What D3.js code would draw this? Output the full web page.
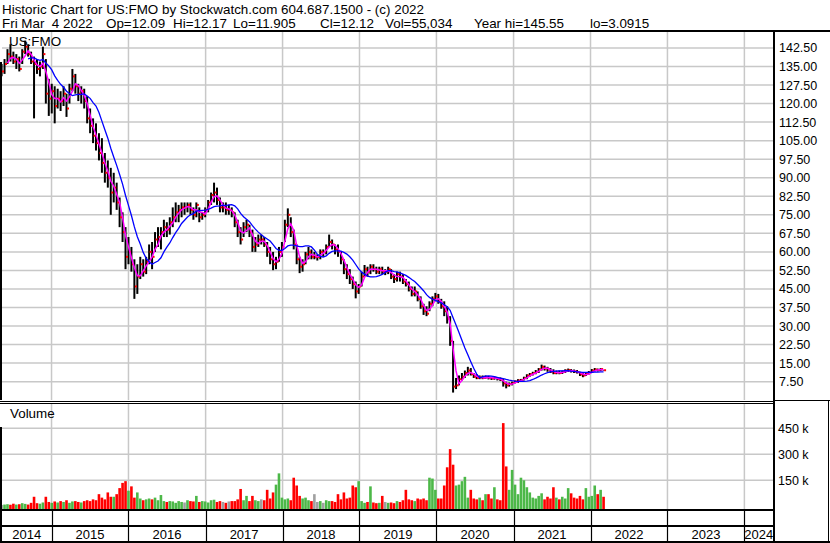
<!DOCTYPE html>
<html>
<head>
<meta charset="utf-8">
<script src="https://cdn.jsdelivr.net/npm/d3@7"></script>
<style>
  body { margin: 0; background: #fff; }
  svg { display: block; font-family: "Liberation Sans", Arial, sans-serif; }
</style>
</head>
<body>
<svg id="chart" width="830" height="543"></svg>
<script>
// bars every 14 days, first one 2014-05-09, last one 2022-03-04
const firstBar = new Date(Date.UTC(2014, 4, 9));
const barStepDays = 14;

const priceHigh = [
  136,138,142,144,141,140,139,142,145.5,144,
  141,139,138,137,143,138,130,128,127,126,
  125,127,124,128,134,132,128,127,126,123,
  118,114,112,108,106,100,97,94,92,88,
  82,76,70,66,62,57,55,58,57,58,
  63,64,68,70,70,73,72,74,78,80,
  79,80,80,80,80,78,80,78,76,78,
  81,84,88,86,82,80,80,79,78,76,
  73,70,72,73,71,69,66,67,67,66,
  64,62,60,58,62,64,73,77.6,74,69,
  63,58,57,60,62,61,60,59,61,61,
  63,67,65,63,63,60,57,55,53,50,
  48,47,52,54.7,54,55,55,54,54,54,
  53,54,53,51,52,52,51,49,48,46,
  46,44,42,39,38,40,42,43.4,43,41,
  40,38,34,24,9,10,11,12,13.5,13,
  11,10.5,10,10,10,9.8,9.5,9.6,9.4,9.2,
  8.5,7.5,7.2,7.5,8,8.5,8.6,9.5,10.5,11,
  11.5,12.2,13,14.4,14,13.5,13,12.5,12,12,
  12,12.5,12.8,12.6,12.4,12.2,11.5,11,11.2,11.8,
  12.6,13,12.8,13,12.17
];
const priceLow = [
  131,132,136,137,136,134,133,136,140,139,
  136,114,132,131,134,120,115,116,112,118,
  117,119,114.6,120,125,124,121,120,118,112,
  108,104,101,97,92,88,86,75,80,77,
  70,64,53,55,52,41,43,49,50,51,
  55,53,60,62,61,66,66,67,70,72,
  72,74,75,76,75,73,74,72,73,74,
  76,79,80,79,76,76,75,75,74,70,
  66,63,66,68,66,60,60,62,63,62,
  58,55,52.6,53,56,58,64,70,66,61,
  55,51.4,52,55,57,57,57,56.5,57,58,
  59,62,61,59,58,55,51,49,47,45,
  41.2,43,46,50,50,51,52,51,51,51,
  50.6,51,49,47.4,48,48,47,46,44,42,
  42,40,37,34.5,34,36,38,40,39,37,
  34,31,22,3.09,4.5,6,8,9,10,10,
  9,8.5,8.5,8.5,8.7,8.4,8.2,8.3,8,7.8,
  5.5,4.8,5.5,6,6.8,7,7.4,8,8.5,9.5,
  10,10.5,11,12,12,11.5,11,10.5,10.5,10.5,
  10.6,11,11.4,11.2,11,10.8,9.8,9.3,9.8,10.4,
  11,11.6,11.6,11.8,11.905
];
const priceClose = [
  133,136,140,139,137,138,134,141,143,140,
  137,136,134,135,140,124,122,125,119,122,
  121,124,118,126,131,127,124,125,121,114,
  111,107,104,100,96,92,90,84,86,80,
  74,68,58,60,55,46,50,55,52,56,
  60,58,65,66,68,70,69,72,74,76,
  77,78,78,79,77,75,79,74,75,77,
  80,83,84,81,78,78,77,77,76,72,
  68,65,70,71,68,62,63,65,65,63,
  60,57,55,56,60,62,71,75,68,63,
  57,54,55,59,60,58,58,58,60,60,
  62,64,63,61,60,57,53,51,49,47,
  44,46,50,53,52,54,53,52,53,52,
  52,53,50,49,51,50,48,47,45,43,
  44,41,38,36,35,39,41,42,40,38,
  36,33,24,5.5,6,8.5,9.5,11,12,10.5,
  9.5,9,9.2,9,9.3,9,8.8,9,8.6,8.2,
  6.8,6,6.5,7,7.6,8,8.2,9,10,10.5,
  11,11.5,12.5,13.5,12.8,12.5,11.5,11,11.2,11,
  11.4,12,12.2,11.8,11.6,11.3,10.4,10,10.6,11.2,
  12,12.4,12.2,12.6,12.12
];
// thousands of shares
const volumeK = [
  8,10,12,9,15,10,12,18,14,10,
  20,55,18,15,22,55,25,20,28,22,
  30,25,35,20,28,30,25,22,30,35,
  30,40,35,70,50,40,80,55,55,70,
  105,135,145,90,115,50,80,45,35,40,
  45,40,50,35,65,30,25,30,28,20,
  30,25,22,35,30,28,60,25,30,28,
  22,35,38,25,30,25,20,28,30,30,
  40,100,35,60,30,60,35,30,40,35,
  95,45,80,125,190,50,40,45,35,165,
  120,60,45,50,35,30,70,25,30,20,
  35,30,30,25,70,40,80,45,50,120,
  110,145,30,20,25,115,22,18,20,60,
  25,20,22,18,30,25,35,95,40,35,
  30,45,40,45,35,165,160,95,45,45,
  120,225,330,240,120,125,145,170,50,95,
  45,40,50,35,70,70,45,110,40,35,
  480,230,95,210,125,70,165,150,110,80,
  50,45,60,75,40,55,45,110,50,40,
  55,45,105,75,50,45,60,40,105,55,
  60,120,70,95,55
];

const yearLabels = [2014, 2015, 2016, 2017, 2018, 2019, 2020, 2021, 2022, 2023, 2024];
const priceTicks = [7.5, 15, 22.5, 30, 37.5, 45, 52.5, 60, 67.5, 75, 82.5, 90,
  97.5, 105, 112.5, 120, 127.5, 135, 142.5];
const volumeTicks = [150000, 300000, 450000];

const headerLine1 = "Historic Chart for US:FMO by Stockwatch.com 604.687.1500 - (c) 2022";
const headerLine2 = [
  ["Fri Mar  4 2022", 2], ["Op=12.09", 106], ["Hi=12.17", 173], ["Lo=11.905", 233],
  ["Cl=12.12", 320], ["Vol=55,034", 385], ["Year hi=145.55", 474], ["lo=3.0915", 590]
];

const svg = d3.select("#chart");
const plotLeft = 2, plotRight = 773;
const priceTop = 32, priceBottom = 400;
const volTop = 404, volBottom = 509;
const gridColor = "#c8c8c8";

const x = d3.scaleUtc()
  .domain([new Date(Date.UTC(2014, 4, 11)), new Date(Date.UTC(2024, 4, 11))])
  .range([2, 772]);
const yPrice = d3.scaleLinear().domain([0, 150]).range([400.2, 29.4]);
const yVol = d3.scaleLinear().domain([0, 450000]).range([506.3, 428.3]);

const bars = priceClose.map(function(c, i) {
  return {
    date: d3.utcDay.offset(firstBar, i * barStepDays),
    high: priceHigh[i],
    low: priceLow[i],
    close: c,
    volume: volumeK[i] * 1000,
    prev: i > 0 ? priceClose[i - 1] : c
  };
});

// moving averages of the closes, like the original chart draws them
function movingAverage(n) {
  const out = [];
  bars.forEach(function(d, i) {
    if (i < n - 1) return;
    out.push({date: d.date, value: d3.mean(priceClose.slice(i - n + 1, i + 1))});
  });
  return out;
}
const maShort = movingAverage(3);
const maLong = movingAverage(10);

const yearStarts = yearLabels.slice(1).map(function(y) { return new Date(Date.UTC(y, 0, 1)); });

// clip regions
const defs = svg.append("defs");
defs.append("clipPath").attr("id", "clip-price").append("rect")
  .attr("x", plotLeft).attr("y", priceTop)
  .attr("width", plotRight - plotLeft).attr("height", priceBottom - priceTop);
defs.append("clipPath").attr("id", "clip-vol").append("rect")
  .attr("x", plotLeft).attr("y", volTop)
  .attr("width", plotRight - plotLeft).attr("height", volBottom - volTop);

// header
svg.append("text").attr("x", 2).attr("y", 13.5)
  .style("font-size", "13.4px").text(headerLine1);
svg.append("g").selectAll("text").data(headerLine2).enter().append("text")
  .attr("x", function(d) { return d[1]; })
  .attr("y", 27.5)
  .attr("xml:space", "preserve")
  .style("font-size", "13.4px")
  .style("white-space", "pre")
  .text(function(d) { return d[0]; });

// grid: price panel
const gPriceGrid = svg.append("g").attr("stroke", gridColor).attr("stroke-width", 1.5);
gPriceGrid.selectAll("line.h").data(priceTicks).enter().append("line")
  .attr("x1", plotLeft).attr("x2", plotRight)
  .attr("y1", function(d) { return yPrice(d); })
  .attr("y2", function(d) { return yPrice(d); });
gPriceGrid.selectAll("line.v").data(yearStarts).enter().append("line")
  .attr("x1", function(d) { return x(d); }).attr("x2", function(d) { return x(d); })
  .attr("y1", priceTop).attr("y2", priceBottom);

// grid: volume panel
const gVolGrid = svg.append("g").attr("stroke", gridColor).attr("stroke-width", 1.5);
gVolGrid.selectAll("line.h").data(volumeTicks).enter().append("line")
  .attr("x1", plotLeft).attr("x2", plotRight)
  .attr("y1", function(d) { return yVol(d); })
  .attr("y2", function(d) { return yVol(d); });
gVolGrid.selectAll("line.v").data(yearStarts).enter().append("line")
  .attr("x1", function(d) { return x(d); }).attr("x2", function(d) { return x(d); })
  .attr("y1", volTop).attr("y2", volBottom);

// price bars
const gPrice = svg.append("g").attr("clip-path", "url(#clip-price)");
gPrice.selectAll("line.bar").data(bars).enter().append("line")
  .attr("class", "bar")
  .attr("x1", function(d) { return x(d.date); })
  .attr("x2", function(d) { return x(d.date); })
  .attr("y1", function(d) { return yPrice(d.high); })
  .attr("y2", function(d) { return yPrice(d.low); })
  .attr("stroke", "#000")
  .attr("stroke-width", 2);
gPrice.selectAll("rect.close").data(bars).enter().append("rect")
  .attr("class", "close")
  .attr("x", function(d) { return x(d.date) + 0.5; })
  .attr("y", function(d) { return yPrice(d.close) - 1; })
  .attr("width", 2)
  .attr("height", 2)
  .attr("fill", "#ff0000");

const maLine = d3.line()
  .x(function(d) { return x(d.date); })
  .y(function(d) { return yPrice(d.value); });
gPrice.append("path").datum(maShort)
  .attr("d", maLine)
  .attr("fill", "none")
  .attr("stroke", "#ff00ff")
  .attr("stroke-width", 1.5);
gPrice.append("path").datum(maLong)
  .attr("d", maLine)
  .attr("fill", "none")
  .attr("stroke", "#0000ff")
  .attr("stroke-width", 1.3);

// volume bars
const gVol = svg.append("g").attr("clip-path", "url(#clip-vol)");
gVol.selectAll("rect").data(bars).enter().append("rect")
  .attr("x", function(d) { return x(d.date) - 1.3; })
  .attr("y", function(d) { return yVol(d.volume); })
  .attr("width", 2.6)
  .attr("height", function(d) { return volBottom - yVol(d.volume); })
  .attr("fill", function(d) {
    if (d.close > d.prev) return "#4cb848";
    if (d.close < d.prev) return "#ff0000";
    return "#a0a0a0";
  });

// panel labels
svg.append("text").attr("x", 9).attr("y", 46).style("font-size", "13.4px").text("US:FMO");
svg.append("text").attr("x", 10).attr("y", 417.5).style("font-size", "13.4px").text("Volume");

// right axis labels
svg.append("g").selectAll("text").data(priceTicks).enter().append("text")
  .attr("x", 779)
  .attr("y", function(d) { return yPrice(d) + 4.5; })
  .style("font-size", "12.5px")
  .text(function(d) { return d3.format(".2f")(d); });
svg.append("g").selectAll("text").data(volumeTicks).enter().append("text")
  .attr("x", 778)
  .attr("y", function(d) { return yVol(d) + 4.5; })
  .style("font-size", "12.5px")
  .text(function(d) { return (d / 1000) + " k"; });

// year band
const yearCells = yearLabels.map(function(y) {
  const a = Math.max(x(new Date(Date.UTC(y, 0, 1))), plotLeft);
  const b = Math.min(x(new Date(Date.UTC(y + 1, 0, 1))), plotRight);
  return {year: y, mid: (a + b) / 2};
});
svg.append("g").selectAll("text").data(yearCells).enter().append("text")
  .attr("x", function(d) { return d.mid; })
  .attr("y", 539)
  .attr("text-anchor", "middle")
  .style("font-size", "13px")
  .text(function(d) { return d.year; });
svg.append("g").attr("stroke", "#000").attr("stroke-width", 1.2)
  .selectAll("line").data(yearStarts).enter().append("line")
  .attr("x1", function(d) { return Math.round(x(d)) + 0.5; })
  .attr("x2", function(d) { return Math.round(x(d)) + 0.5; })
  .attr("y1", 511).attr("y2", 541);

// frame lines
const frame = svg.append("g").attr("stroke", "#000").attr("shape-rendering", "crispEdges");
frame.append("line").attr("x1", 0).attr("x2", 830).attr("y1", 31).attr("y2", 31).attr("stroke-width", 2);
frame.append("line").attr("x1", 1).attr("x2", 1).attr("y1", 62).attr("y2", 400).attr("stroke-width", 2);
frame.append("line").attr("x1", 1).attr("x2", 1).attr("y1", 427).attr("y2", 543).attr("stroke-width", 2);
frame.append("line").attr("x1", 774).attr("x2", 774).attr("y1", 31).attr("y2", 543).attr("stroke-width", 2);
frame.append("line").attr("x1", 0).attr("x2", 773).attr("y1", 401).attr("y2", 401).attr("stroke-width", 1);
frame.append("line").attr("x1", 0).attr("x2", 773).attr("y1", 403.5).attr("y2", 403.5).attr("stroke-width", 1);
frame.append("line").attr("x1", 775).attr("x2", 830).attr("y1", 400).attr("y2", 400).attr("stroke-width", 1);
frame.append("line").attr("x1", 0).attr("x2", 773).attr("y1", 510).attr("y2", 510).attr("stroke-width", 2);
frame.append("line").attr("x1", 0).attr("x2", 773).attr("y1", 526.3).attr("y2", 526.3).attr("stroke-width", 2);
frame.append("line").attr("x1", 0).attr("x2", 830).attr("y1", 542).attr("y2", 542).attr("stroke-width", 2);
frame.append("line").attr("x1", 828.5).attr("x2", 828.5).attr("y1", 400).attr("y2", 543).attr("stroke-width", 1.5);
</script>
</body>
</html>
